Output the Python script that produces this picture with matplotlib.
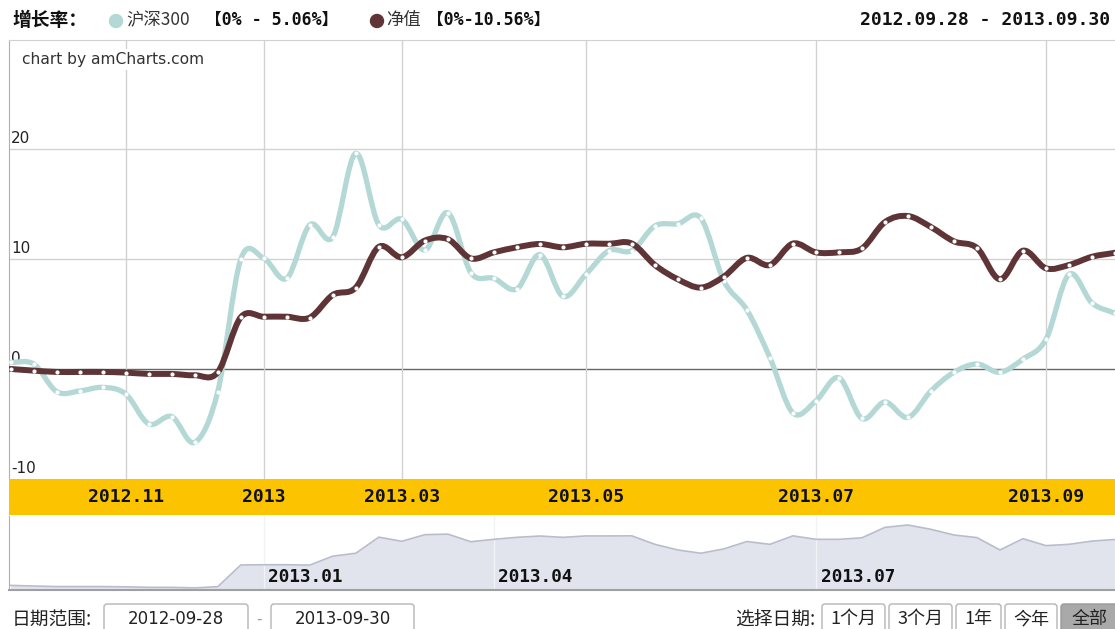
import matplotlib
matplotlib.use('Agg')
import matplotlib.pyplot as plt
import numpy as np
from matplotlib.path import Path
from matplotlib.patches import PathPatch, FancyBboxPatch, Circle

# ---------------- data ----------------
hs300 = [0.6, 0.45, -2.06, -2.0, -1.67, -2.27, -5.0, -4.33, -6.67, -2.06,
         9.97, 10.06, 8.24, 13.1, 12.0, 19.6, 13.1, 13.6, 10.8, 14.2,
         8.76, 8.24, 7.27, 10.4, 6.6, 8.6, 10.75, 10.75, 13.0, 13.2,
         13.7, 8.0, 5.36, 1.03, -4.0, -2.9, -0.8, -4.5, -3.0, -4.4,
         -2.0, -0.3, 0.45, -0.3, 0.9, 2.7, 8.6, 6.0, 5.06]
nav = [0.0, -0.15, -0.27, -0.27, -0.27, -0.33, -0.45, -0.45, -0.57, -0.3,
       4.7, 4.75, 4.75, 4.67, 6.73, 7.4, 11.1, 10.15, 11.67, 11.8,
       10.05, 10.6, 11.06, 11.36, 11.06, 11.38, 11.38, 11.4, 9.45, 8.15,
       7.4, 8.4, 10.1, 9.45, 11.4, 10.6, 10.6, 10.95, 13.35, 13.9,
       12.9, 11.6, 11.0, 8.15, 10.75, 9.15, 9.45, 10.2, 10.56]
month_idx = [5, 11, 17, 25, 35, 45]
month_labels = ['2012.11', '2013', '2013.03', '2013.05', '2013.07', '2013.09']
scroll_idx = [11, 21, 35]
scroll_labels = ['2013.01', '2013.04', '2013.07']
y_ticks = [-10, 0, 10, 20]
series_names = ['沪深300', '净值']
series_ranges = ['【0% - 5.06%】', '【0%-10.56%】']
date_start, date_end = '2012-09-28', '2013-09-30'
period_buttons = ['1个月', '3个月', '1年', '今年', '全部']

LIGHT = '#b3d8d5'
DARK = '#5f3437'
W, H = 1115, 629
CJK = ['Noto Sans CJK SC', 'DejaVu Sans']
MONO_CJK = ['DejaVu Sans Mono', 'Noto Sans CJK SC']

fig = plt.figure(figsize=(W / 100, H / 100), dpi=100)
fig.patch.set_facecolor('white')


def px_axes(x0, y0, x1, y1, **kw):
    return fig.add_axes([x0 / W, 1 - y1 / H, (x1 - x0) / W, (y1 - y0) / H], **kw)


# background overlay axes in pixel units
bg = fig.add_axes([0, 0, 1, 1], zorder=-5)
bg.set_xlim(0, W)
bg.set_ylim(H, 0)
bg.axis('off')


def smooth_path(xs, ys):
    xs = np.asarray(xs, float)
    ys = np.asarray(ys, float)
    pts = np.column_stack([xs, ys])
    n = len(pts)
    tang = np.zeros_like(pts)
    tang[1:-1] = (pts[2:] - pts[:-2]) / 2.0
    tang[0] = pts[1] - pts[0]
    tang[-1] = pts[-1] - pts[-2]
    verts = [pts[0]]
    codes = [Path.MOVETO]
    for i in range(n - 1):
        verts += [pts[i] + tang[i] / 3.0, pts[i + 1] - tang[i + 1] / 3.0, pts[i + 1]]
        codes += [Path.CURVE4] * 3
    return Path(verts, codes)


# ---------------- main plot ----------------
x = np.arange(len(nav))
xlim = (-0.074, len(nav) - 1)
ax = px_axes(9, 40, 1115, 479)
ax.set_xlim(*xlim)
ax.set_ylim(-10, 29.9)
for s in ['right', 'bottom']:
    ax.spines[s].set_visible(False)
ax.spines['left'].set_color('#b0b0b0')
ax.spines['top'].set_color('#d0d0d0')
ax.set_xticks([])
ax.set_yticks([])
for v in y_ticks:
    if v == 0:
        ax.axhline(v, color='#666666', lw=1.0, zorder=1)
    elif v > -10:
        ax.axhline(v, color='#d2d2d2', lw=1.0, zorder=1)
for m in month_idx:
    ax.axvline(m, color='#d2d2d2', lw=1.0, zorder=1)
for v in y_ticks:
    ax.text(0.02, v + 0.3, str(v), fontsize=11, color='#222222', ha='left', va='bottom',
            family='DejaVu Sans', zorder=2)

ax.add_patch(PathPatch(smooth_path(x, hs300), fill=False, edgecolor=LIGHT, lw=3.8,
                       capstyle='round', joinstyle='round', zorder=3))
ax.plot(x, hs300, ls='none', marker='o', ms=3.0, mfc='white', mec='none', zorder=4)
ax.add_patch(PathPatch(smooth_path(x, nav), fill=False, edgecolor=DARK, lw=4.3,
                       capstyle='round', joinstyle='round', zorder=5))
ax.plot(x, nav, ls='none', marker='o', ms=3.0, mfc='white', mec='none', zorder=6)

ax.text(0.012, 0.955, 'chart by amCharts.com', transform=ax.transAxes, fontsize=11.2,
        color='#333333', ha='left', va='center', family='DejaVu Sans',
        bbox=dict(facecolor='white', edgecolor='none', pad=2), zorder=7)

# ---------------- yellow date band ----------------
band = px_axes(9, 479, 1115, 515)
band.set_facecolor('#fcc400')
band.set_xlim(*xlim)
band.set_ylim(0, 1)
band.set_xticks([])
band.set_yticks([])
for s in band.spines.values():
    s.set_visible(False)
for m, lab in zip(month_idx, month_labels):
    band.text(m, 0.5, lab, ha='center', va='center', fontsize=13, fontweight='bold',
              family='DejaVu Sans Mono', color='#111111')

# ---------------- scrollbar ----------------
sc = px_axes(9, 516, 1115, 590)
sc.set_xlim(*xlim)
sc.set_ylim(-1.06, 15.97)
sc.set_xticks([])
sc.set_yticks([])
for s in ['top', 'right']:
    sc.spines[s].set_visible(False)
sc.spines['left'].set_color('#b0b0b0')
sc.spines['bottom'].set_color('#a0a0a0')
sc.spines['bottom'].set_linewidth(1.5)
sc.fill_between(x, -1.06, nav, color='#e1e4ed', lw=0, zorder=1)
sc.plot(x, nav, color='#b8bdcc', lw=1.2, zorder=2)
for m, lab in zip(scroll_idx, scroll_labels):
    sc.axvline(m, color='#f2f3f7', lw=1.0, zorder=1.5)
    sc.text(m + 0.2, 0.17, lab, transform=sc.get_xaxis_transform(), ha='left', va='center',
            fontsize=12.8, fontweight='bold', family='DejaVu Sans Mono', color='#111111', zorder=3)

# ---------------- header ----------------
bg.text(12, 20, '增长率：', family=CJK, fontsize=13.5, fontweight='bold', ha='left', va='center',
        color='#111111')
bg.add_patch(Circle((116, 21), 6.5, color=LIGHT))
bg.text(126, 20, series_names[0], family=CJK, fontsize=12.5, ha='left', va='center', color='#333333')
bg.text(205, 20, series_ranges[0], family=MONO_CJK, fontsize=12, fontweight='bold', ha='left',
        va='center', color='#111111')
bg.add_patch(Circle((377, 21), 6.5, color=DARK))
bg.text(386, 20, series_names[1], family=CJK, fontsize=12.5, ha='left', va='center', color='#333333')
bg.text(427, 20, series_ranges[1], family=MONO_CJK, fontsize=12, fontweight='bold', ha='left',
        va='center', color='#111111')
bg.text(1110, 20, date_start.replace('-', '.') + ' - ' + date_end.replace('-', '.'),
        family='DejaVu Sans Mono', fontsize=13, fontweight='bold', ha='right', va='center',
        color='#111111')

# ---------------- bottom controls ----------------
bg.text(12, 619, '日期范围:', family=CJK, fontsize=13.5, ha='left', va='center', color='#222222')
for (x0, x1), txt in [((104, 248), date_start), ((271, 414), date_end)]:
    bg.add_patch(FancyBboxPatch((x0, 604), x1 - x0, 40, boxstyle='round,pad=0,rounding_size=3',
                                facecolor='white', edgecolor='#b5b5b5', lw=1))
    bg.text((x0 + x1) / 2, 619, txt, family='DejaVu Sans', fontsize=12, ha='center', va='center',
            color='#222222')
bg.text(259, 619, '-', fontsize=11, ha='center', va='center', color='#999999')
bg.text(815, 619, '选择日期:', family=CJK, fontsize=13.5, ha='right', va='center', color='#222222')
btn_edges = [(822, 885), (889, 952), (956, 1001), (1005, 1057), (1061, 1118)]
for i, ((x0, x1), lab) in enumerate(zip(btn_edges, period_buttons)):
    active = i == len(period_buttons) - 1
    bg.add_patch(FancyBboxPatch((x0, 604), x1 - x0, 40, boxstyle='round,pad=0,rounding_size=3',
                                facecolor='#a9a9a9' if active else 'white',
                                edgecolor='#9a9a9a' if active else '#b5b5b5', lw=1))
    bg.text((x0 + x1) / 2, 619, lab, family=CJK, fontsize=13, ha='center', va='center',
            color='#222222')

fig.savefig('out.png', dpi=100)
